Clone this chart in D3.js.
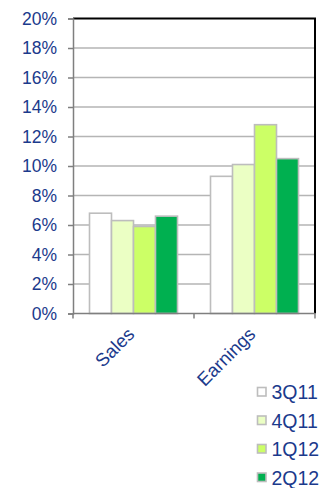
<!DOCTYPE html>
<html>
<head>
<meta charset="utf-8">
<script src="https://cdn.jsdelivr.net/npm/d3@7"></script>
<style>
  html, body { margin: 0; padding: 0; background: #fff; }
  svg { display: block; font-family: "Liberation Sans", Arial, sans-serif; }
</style>
</head>
<body>
<svg id="chart" width="326" height="488"></svg>
<script>
// Growth rates (%) by metric and quarter
const categories = ["Sales", "Earnings"];
const seriesNames = ["3Q11", "4Q11", "1Q12", "2Q12"];
const values3Q11 = [6.8, 9.3];
const values4Q11 = [6.3, 10.1];
const values1Q12 = [5.9, 12.8];
const values2Q12 = [6.6, 10.5];
const yTicks = [0, 2, 4, 6, 8, 10, 12, 14, 16, 18, 20];
const seriesColors = ["#ffffff", "#ebffc4", "#ccff66", "#00b050"];

const seriesValues = [values3Q11, values4Q11, values1Q12, values2Q12];
const textColor = "#1b3a8c";

const svg = d3.select("#chart");
const plotLeft = 73, plotRight = 315, plotTop = 18.5, plotBottom = 313.5;

const x = d3.scaleBand().domain(categories).range([plotLeft, plotRight]).padding(0);
const xSub = d3.scaleBand().domain(seriesNames).range([0, x.bandwidth()])
  .paddingInner(0).paddingOuter(0.75);
const y = d3.scaleLinear().domain([0, 20]).range([plotBottom, plotTop]);

// Horizontal gridlines
svg.append("g").selectAll("line").data(yTicks.filter(t => t > 0 && t < 20)).join("line")
  .attr("x1", plotLeft).attr("x2", plotRight)
  .attr("y1", d => y(d)).attr("y2", d => y(d))
  .attr("stroke", "#b5b5b5").attr("stroke-width", 1.5);

// Top and right frame
svg.append("path")
  .attr("d", `M${plotLeft},${y(20)}H${plotRight}V${plotBottom}`)
  .attr("fill", "none").attr("stroke", "#000").attr("stroke-width", 2);

// Bars
const groups = svg.append("g").selectAll("g").data(seriesNames).join("g");
groups.selectAll("rect")
  .data((s, i) => categories.map((c, j) => ({ c, s, v: seriesValues[i][j], color: seriesColors[i] })))
  .join("rect")
  .attr("x", d => x(d.c) + xSub(d.s))
  .attr("width", xSub.bandwidth())
  .attr("y", d => y(d.v))
  .attr("height", d => y(0) - y(d.v))
  .attr("fill", d => d.color)
  .attr("stroke", "#bdbdbd").attr("stroke-width", 1.6);

// Y axis
const yAxis = svg.append("g").attr("transform", `translate(${plotLeft},0)`)
  .call(d3.axisLeft(y).tickValues(yTicks).tickFormat(d => d + "%").tickSize(5).tickPadding(11));
yAxis.select(".domain").attr("stroke", "#7f7f7f").attr("stroke-width", 1.5);
yAxis.selectAll(".tick line").attr("stroke", "#7f7f7f").attr("stroke-width", 1.5);
yAxis.selectAll("text").attr("fill", textColor).attr("font-size", 17.5)
  .attr("font-family", "Liberation Sans, Arial, sans-serif");

// X axis with boundary ticks
svg.append("line").attr("x1", plotLeft).attr("x2", plotRight).attr("y1", plotBottom).attr("y2", plotBottom)
  .attr("stroke", "#7f7f7f").attr("stroke-width", 1.5);
const boundaries = categories.map(c => x(c)).concat([x(categories[categories.length - 1]) + x.bandwidth()]);
svg.append("g").selectAll("line").data(boundaries).join("line")
  .attr("x1", d => d).attr("x2", d => d)
  .attr("y1", plotBottom).attr("y2", plotBottom + 5)
  .attr("stroke", "#7f7f7f").attr("stroke-width", 1.5);

// Category labels, rotated
svg.append("g").selectAll("text").data(categories).join("text")
  .attr("transform", d => `translate(${x(d) + x.bandwidth() / 2 + 2},${plotBottom + 22}) rotate(-45)`)
  .attr("text-anchor", "end")
  .attr("fill", textColor).attr("font-size", 18.5)
  .text(d => d);

// Legend
const legend = svg.append("g").selectAll("g").data(seriesNames).join("g")
  .attr("transform", (d, i) => `translate(257,${387 + i * 28.5})`);
legend.append("rect")
  .attr("x", 0.5).attr("y", 0.5).attr("width", 8.5).attr("height", 8.5)
  .attr("fill", (d, i) => seriesColors[i])
  .attr("stroke", "#bdbdbd").attr("stroke-width", 1.6);
legend.append("text")
  .attr("x", 14.5).attr("y", 12.3)
  .attr("fill", textColor).attr("font-size", 19.5)
  .text(d => d);
</script>
</body>
</html>
